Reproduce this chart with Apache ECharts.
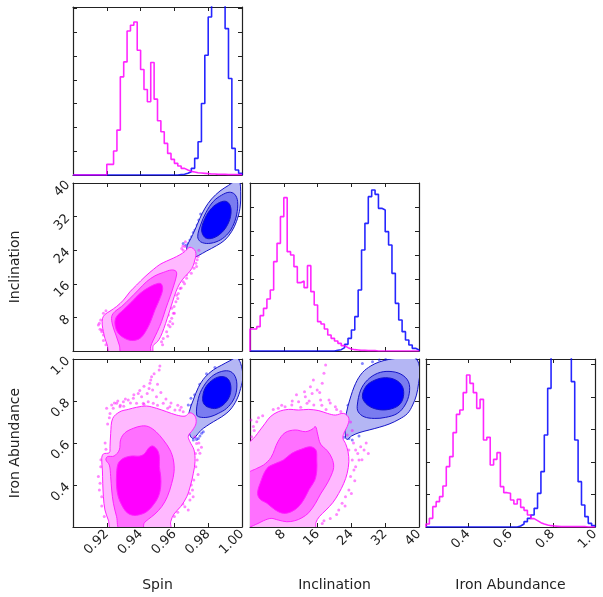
<!DOCTYPE html>
<html lang="en">
<head>
    <meta charset="utf-8"/>
    <script src="https://cdn.jsdelivr.net/npm/echarts@6.0.0/dist/echarts.min.js"></script>
    <style>
        html, body { margin: 0; background: #fff; }
        #main { width: 603px; height: 597px; }
    </style>
</head>
<body>
<div id="main"></div>
<script>
    // axis ranges: [min, max, tick interval]
    var spinRange = [0.90, 1.00, 0.02];
    var inclRange = [0, 40, 8];
    var ironRange = [0.2, 1.0, 0.2];

    // 1D histograms, 50 bins over each axis range
    var spinHistPink = [0,0,0,0,0,0,0,0,0,0, 32,32,72,135,295,340,433,450,460,375, 317,257,220,338,228,163,130,95,65,47, 35,27,20,15,11,9,7,6,5,4, 3,3,2,2,2,1,1,1,1,1];
    var spinHistBlue = [0,0,0,0,0,0,0,0,0,0, 0,0,0,0,0,0,0,0,0,0, 0,0,0,0,0,0,0,0,0,0, 0,1,2,5,10,20,50,100,215,360, 475,620,720,760,650,440,290,80,15,5];
    var inclHistPink = [66,66,73,106,128,156,183,268,323,403, 460,298,288,253,205,210,190,256,178,138, 88,81,66,48,38,30,23,16,10,6, 4,3,2,2,1,1,1,0,0,0, 0,0,0,0,0,0,0,0,0,0];
    var inclHistBlue = [0,0,0,0,0,0,0,0,0,0, 0,0,0,0,0,0,0,0,0,0, 0,0,0,0,0,2,4,10,20,38, 63,103,183,303,383,463,483,470,428,423, 358,318,233,143,93,58,33,18,8,3];
    var ironHistPink = [9,26,61,76,91,123,181,211,283,338, 351,403,456,431,403,356,383,261,269,186, 203,223,121,103,101,81,69,83,59,50, 36,25,19,13,9,6,4,3,2,1, 1,1,1,1,1,1,1,0,0,0];
    var ironHistBlue = [0,0,0,0,0,0,0,0,0,0, 0,0,0,0,0,0,0,0,0,0, 0,0,0,0,0,0,0,3,9,16, 26,36,56,101,166,276,416,560,640,680, 660,600,540,436,261,136,66,31,11,4];
    // hist y scale: [max, tick interval]
    var spinHistY = [505, 71.5];
    var inclHistY = [504, 72];
    var ironHistY = [504, 97.5];

    // density contours (outer, middle, inner) as [x, y] outlines
    var spinInclPink = [
        [[0.9219,-0.5],[0.9203,1.4],[0.9189,3.0],[0.918,4.6],[0.9173,6.2],[0.9175,7.8],[0.9189,8.7],[0.9219,9.5],[0.9258,10.6],[0.9298,12.1],[0.9337,14.1],[0.9376,15.7],[0.9426,17.7],[0.9475,19.4],[0.9514,20.6],[0.9554,21.4],[0.9593,22.1],[0.9632,22.9],[0.9662,23.7],[0.9676,24.3],[0.9692,24.7],[0.9711,24.4],[0.9725,23.7],[0.9727,22.7],[0.9721,21.7],[0.9711,20.3],[0.9692,19.0],[0.9662,17.7],[0.9632,16.1],[0.9609,14.1],[0.9589,11.7],[0.9574,9.8],[0.9558,7.8],[0.9538,5.4],[0.9518,3.4],[0.9499,2.2],[0.9475,1.3],[0.9465,-0.5]],
        [[0.9288,-0.5],[0.9274,1.4],[0.9254,3.8],[0.9234,6.2],[0.9229,8.2],[0.9248,9.4],[0.9288,10.6],[0.9337,12.5],[0.9386,14.5],[0.9435,16.5],[0.9485,17.9],[0.9534,18.7],[0.9583,19.3],[0.9609,19.0],[0.9613,18.1],[0.9597,15.7],[0.9574,12.9],[0.955,10.2],[0.9524,7.0],[0.9499,4.6],[0.9475,2.6],[0.9459,1.0],[0.9455,-0.5]],
        [[0.9248,6.6],[0.9258,8.2],[0.9298,9.8],[0.9347,11.7],[0.9396,13.7],[0.9455,15.3],[0.9504,16.1],[0.9524,15.9],[0.953,14.5],[0.951,12.1],[0.9485,9.8],[0.9459,7.0],[0.9432,4.8],[0.9396,3.0],[0.9347,2.5],[0.9298,3.2],[0.9262,4.6]]
    ];
    var spinInclBlue = [
        [[0.9672,23.7],[0.9676,25.1],[0.9696,26.7],[0.9721,28.8],[0.9751,31.6],[0.9781,34.0],[0.982,36.2],[0.987,38.1],[0.9919,39.4],[0.9958,40.4],[0.9984,40.4],[0.9992,37.9],[0.9988,34.0],[0.9967,30.8],[0.9938,28.4],[0.9898,26.4],[0.985,25.1],[0.979,23.8],[0.9741,22.7],[0.9708,22.1],[0.9682,22.5]],
        [[0.9738,27.2],[0.9755,30.0],[0.9787,33.0],[0.983,35.6],[0.9879,37.1],[0.9924,37.8],[0.9957,37.3],[0.9974,35.6],[0.9968,32.4],[0.9944,29.6],[0.9909,27.6],[0.986,26.2],[0.9801,25.6],[0.9755,26.0]],
        [[0.9761,28.8],[0.9781,31.6],[0.982,34.0],[0.9869,35.4],[0.9908,35.6],[0.9932,34.4],[0.9932,32.0],[0.9908,29.6],[0.9869,27.8],[0.982,26.8],[0.9781,27.0]]
    ];
    var spinIronPink = [
        [[0.9229,0.186],[0.9209,0.233],[0.9189,0.281],[0.918,0.344],[0.9176,0.408],[0.9174,0.471],[0.917,0.527],[0.918,0.548],[0.9215,0.554],[0.9219,0.582],[0.9223,0.646],[0.9235,0.717],[0.9278,0.749],[0.9327,0.76],[0.9376,0.77],[0.9435,0.776],[0.9495,0.765],[0.9554,0.749],[0.9613,0.733],[0.9663,0.728],[0.9692,0.744],[0.9722,0.728],[0.9728,0.694],[0.9708,0.662],[0.9682,0.633],[0.9692,0.606],[0.9716,0.567],[0.9722,0.511],[0.9712,0.456],[0.9696,0.4],[0.9673,0.344],[0.9637,0.297],[0.9598,0.262],[0.9578,0.225],[0.9574,0.186]],
        [[0.9278,0.186],[0.9258,0.249],[0.9239,0.313],[0.9229,0.376],[0.9223,0.44],[0.9215,0.495],[0.9195,0.519],[0.9203,0.535],[0.9243,0.538],[0.9274,0.567],[0.9282,0.617],[0.9308,0.649],[0.9357,0.67],[0.9406,0.681],[0.9446,0.678],[0.9491,0.654],[0.9535,0.614],[0.9574,0.567],[0.9594,0.519],[0.9598,0.463],[0.9584,0.408],[0.9558,0.344],[0.9525,0.297],[0.9485,0.262],[0.9446,0.237],[0.942,0.217],[0.9412,0.186]],
        [[0.9268,0.503],[0.9298,0.527],[0.9347,0.538],[0.9396,0.538],[0.9426,0.551],[0.9446,0.575],[0.9471,0.586],[0.9499,0.567],[0.9511,0.535],[0.9511,0.487],[0.9519,0.44],[0.9519,0.392],[0.9505,0.344],[0.9475,0.305],[0.9436,0.273],[0.9387,0.257],[0.9347,0.257],[0.9314,0.273],[0.9288,0.305],[0.9268,0.344],[0.9258,0.392],[0.9258,0.456]]
    ];
    var spinIronBlue = [
        [[0.9692,0.638],[0.9682,0.694],[0.9688,0.749],[0.9712,0.805],[0.9742,0.865],[0.9781,0.913],[0.983,0.948],[0.988,0.971],[0.9929,0.992],[0.9968,1.005],[0.9992,0.979],[1.0005,0.916],[0.9992,0.86],[0.9968,0.805],[0.9929,0.757],[0.988,0.725],[0.983,0.701],[0.9791,0.681],[0.9755,0.659],[0.9728,0.633],[0.9708,0.622]],
        [[0.9732,0.733],[0.9742,0.813],[0.9771,0.868],[0.982,0.916],[0.988,0.941],[0.9933,0.94],[0.9964,0.908],[0.9968,0.852],[0.9949,0.805],[0.9909,0.765],[0.986,0.741],[0.9811,0.725],[0.9761,0.722]],
        [[0.9767,0.813],[0.9781,0.86],[0.982,0.897],[0.987,0.916],[0.9913,0.908],[0.9933,0.876],[0.9929,0.829],[0.9899,0.789],[0.985,0.765],[0.9801,0.77],[0.9775,0.786]]
    ];
    var inclIronPink = [
        [[-0.4,0.59],[1.2,0.63],[2.4,0.662],[3.6,0.694],[4.8,0.725],[6.7,0.749],[9.1,0.76],[11.5,0.757],[13.9,0.76],[16.3,0.754],[18.3,0.741],[20.2,0.733],[22.2,0.741],[23.4,0.717],[23.0,0.678],[22.2,0.646],[22.0,0.622],[22.6,0.598],[23.2,0.559],[23.4,0.511],[23.0,0.456],[22.2,0.408],[21.0,0.36],[19.6,0.316],[18.0,0.281],[16.4,0.249],[15.6,0.221],[15.3,0.186],[-0.4,0.186]],
        [[-0.4,0.452],[1.6,0.479],[3.2,0.495],[5.0,0.532],[6.6,0.606],[8.3,0.649],[10.7,0.662],[13.1,0.654],[14.7,0.665],[15.5,0.678],[16.0,0.643],[16.7,0.595],[18.3,0.563],[19.4,0.527],[19.8,0.484],[19.0,0.436],[17.9,0.395],[16.7,0.357],[15.5,0.313],[13.9,0.268],[12.3,0.244],[10.6,0.23],[8.7,0.225],[6.7,0.233],[5.0,0.241],[3.2,0.23],[1.6,0.214],[-0.4,0.205]],
        [[1.8,0.36],[2.4,0.408],[4.0,0.479],[6.1,0.503],[7.9,0.519],[9.9,0.551],[12.1,0.57],[14.3,0.582],[15.6,0.567],[15.8,0.519],[15.8,0.468],[15.3,0.421],[14.0,0.379],[12.9,0.336],[11.5,0.297],[9.8,0.273],[7.9,0.265],[6.0,0.281],[4.0,0.313],[2.4,0.332]]
    ];
    var inclIronBlue = [
        [[22.6,0.627],[22.5,0.686],[22.8,0.741],[23.6,0.805],[25.0,0.884],[26.6,0.935],[28.6,0.967],[30.6,0.986],[32.9,0.998],[36.1,1.005],[39.3,1.0],[40.2,0.948],[39.9,0.884],[39.4,0.828],[38.5,0.781],[37.3,0.741],[35.3,0.713],[32.9,0.69],[30.6,0.675],[28.2,0.662],[25.8,0.649],[24.0,0.633],[23.0,0.617]],
        [[25.4,0.781],[26.2,0.852],[27.8,0.9],[30.2,0.932],[32.9,0.941],[35.7,0.928],[37.5,0.892],[37.7,0.837],[36.7,0.781],[34.9,0.741],[32.1,0.722],[29.4,0.717],[27.0,0.725],[25.6,0.749]],
        [[26.6,0.82],[27.5,0.871],[29.6,0.9],[32.1,0.911],[34.5,0.9],[36.1,0.868],[36.3,0.82],[35.3,0.781],[32.9,0.76],[30.2,0.76],[27.8,0.781]]
    ];

    // samples outside the outer contour
    var spinInclPinkPts = [[0.915,6.2],[0.916,5.2],[0.917,4.6],[0.918,3.8],[0.9156,6.6],[0.9164,7.4],[0.918,9.0],[0.9195,9.6],[0.917,5.0],[0.918,2.5],[0.9195,1.5],
        [0.9544,9.4],[0.9564,8.6],[0.9574,7.0],[0.9584,7.8],[0.9594,9.0],[0.9564,6.2],[0.9554,4.6],[0.9534,3.0],[0.9524,2.2],[0.96,9.0],[0.959,6.5],[0.956,3.5],[0.953,1.5],
        [0.9609,11.7],[0.9623,13.7],[0.9652,16.5],[0.9672,18.1],[0.9682,18.9],[0.9716,19.7],[0.9727,20.9],[0.9731,20.1],[0.9735,21.7],[0.9692,20.5],[0.9672,17.3],[0.9633,14.9],
        [0.9613,13.3],[0.9584,10.2],[0.9598,10.6],[0.9574,5.8],[0.962,12.5],[0.964,15.0],[0.966,16.0],[0.97,18.5],[0.974,22.5],[0.9745,24.0],[0.9643,24.4],[0.9652,24.0],[0.9662,24.9],[0.965,25.0],[0.9665,26.0]];
    var spinInclBluePts = [[0.9682,25.6],[0.9692,26.4],[0.9668,25.2],[0.9702,27.2],[0.9652,25.6],[0.9721,28.8],[0.9735,30.0],[0.9755,32.6],[0.9712,28.2],[0.9745,31.2]];
    var spinIronPinkPts = [[0.9514,0.967],[0.951,0.948],[0.9465,0.916],[0.9455,0.884],[0.9471,0.852],[0.9439,0.836],[0.9406,0.82],[0.9386,0.836],[0.9357,0.813],[0.9327,0.805],[0.9298,0.797],[0.9258,0.789],[0.9229,0.781],[0.9238,0.765],[0.9278,0.773],
        [0.9494,0.82],[0.9534,0.789],[0.9573,0.773],[0.9603,0.757],[0.9632,0.757],[0.9652,0.749],[0.9475,0.789],[0.9416,0.789],[0.9445,0.797],[0.9376,0.789],[0.9199,0.765],[0.9219,0.741],
        [0.9245,0.79],[0.9265,0.8],[0.931,0.81],[0.934,0.79],[0.936,0.83],[0.9395,0.85],[0.942,0.87],[0.945,0.86],[0.946,0.9],[0.948,0.93],[0.95,0.88],[0.952,0.84],[0.955,0.81],[0.958,0.79],[0.962,0.78],[0.964,0.77],[0.928,0.78],[0.93,0.775],[0.942,0.785],[0.95,0.78],[0.956,0.765],
        [0.9215,0.72],[0.9205,0.69],[0.919,0.6],[0.9195,0.57],[0.9165,0.52],[0.917,0.3],[0.9185,0.25],[0.915,0.44],[0.916,0.408],[0.9156,0.376],[0.9164,0.487],[0.917,0.344],
        [0.96,0.25],[0.962,0.27],[0.965,0.31],[0.969,0.36],[0.97,0.4],[0.974,0.45],[0.9725,0.55],[0.9745,0.6],[0.976,0.58],[0.9721,0.63],[0.9731,0.598],[0.9741,0.567],[0.9735,0.519],[0.9751,0.551],[0.9727,0.487],[0.9715,0.424],[0.9707,0.376],[0.9692,0.329],[0.9662,0.297],[0.9711,0.344],[0.9682,0.281]];
    var spinIronBluePts = [[0.9696,0.662],[0.9708,0.638],[0.9722,0.627],[0.9731,0.617],[0.9751,0.633],[0.9761,0.646],[0.9688,0.678],[0.9712,0.614],[0.9741,0.622],[0.9771,0.654],[0.9682,0.781],[0.9698,0.813],[0.97,0.78],[0.972,0.83],[0.975,0.88],[0.979,0.93],[0.984,0.96]];
    var inclIronPinkPts = [[17.9,0.971],[17.5,0.932],[17.1,0.884],[15.9,0.852],[14.7,0.836],[13.1,0.82],[13.5,0.789],[11.5,0.797],[9.9,0.781],[8.3,0.773],[6.7,0.765],[18.7,0.805],[20.2,0.773],[16.7,0.805],[15.1,0.781],[14.3,0.868],[12.9,0.844],
        [5.5,0.76],[7.5,0.78],[10.0,0.8],[11.0,0.83],[12.0,0.77],[14.0,0.8],[15.0,0.9],[16.5,0.84],[17.0,0.78],[18.0,0.76],[19.0,0.79],[20.5,0.76],[21.5,0.75],
        [0.24,0.709],[0.8,0.678],[0.4,0.63],[1.6,0.701],[2.0,0.72],[3.0,0.73],[1.0,0.66],[0.5,0.61],
        [22.6,0.582],[23.4,0.567],[24.2,0.519],[24.6,0.471],[23.8,0.44],[25.0,0.487],[25.8,0.519],[23.4,0.376],[22.6,0.344],[21.8,0.313],[21.0,0.281],[17.1,0.217],[25.0,0.567],[26.2,0.582],[27.0,0.567],[23.0,0.638],[21.8,0.662],
        [23.8,0.7],[24.2,0.66],[24.5,0.6],[25.5,0.55],[24.8,0.42],[24.0,0.36],[22.5,0.3],[20.5,0.26],[19.0,0.24],[17.5,0.23],[26.5,0.52],[27.5,0.6],[28.0,0.55]];
    var inclIronBluePts = [[21.8,0.614],[22.2,0.627],[23.4,0.622],[24.2,0.614],[25.8,0.633],[22.6,0.662],[26.6,0.979],[29.0,0.987],[30.6,0.995],[32.1,0.998],[38.5,0.987],[39.3,0.998],[39.7,0.963],[24.8,0.86],[23.2,0.78]];

    var pinkFill = ['#ffb8ff', '#ff70ff', '#ff00ff'];
    var blueFill = ['#b4b6f4', '#7a7cf0', '#0000ff'];

    var cols = [73, 250, 426], rows = [7, 183, 359], W = 169, H = 168;
    var ink = '#222';
    var grids = [], xAxes = [], yAxes = [], series = [];

    function axis(gi, pos, rng, labels, fmt, name, gap) {
        return {
            type: 'value', gridIndex: gi, position: pos,
            min: rng[0], max: rng[1], interval: rng[2],
            axisLine: {show: true, onZero: false, lineStyle: {color: ink, width: 1.2}},
            axisTick: {show: true, inside: true, length: 4, lineStyle: {color: ink}},
            axisLabel: {
                show: labels, rotate: 45, fontSize: 13, color: ink, fontFamily: 'DejaVu Sans',
                margin: 5, showMinLabel: false, formatter: fmt
            },
            splitLine: {show: false},
            name: name || '', nameLocation: 'middle', nameGap: gap || 0,
            nameTextStyle: {fontSize: 14, color: ink, fontFamily: 'DejaVu Sans'}
        };
    }

    // one panel: grid + 4 framed axes
    function panel(r, c, xr, yr, xLab, yLab, xFmt, yFmt, xName, yName) {
        var gi = grids.length;
        grids.push({left: cols[c], top: rows[r], width: W, height: H, outerBoundsMode: 'none'});
        xAxes.push(axis(gi, 'bottom', xr, xLab, xFmt, xName, 51));
        xAxes.push(axis(gi, 'top', xr, false));
        yAxes.push(axis(gi, 'left', yr, yLab, yFmt, yName, 51));
        yAxes.push(axis(gi, 'right', yr, false));
        return gi;
    }

    function histLine(counts, rng, color, gi) {
        var w = (rng[1] - rng[0]) / counts.length, pts = [[rng[0], 0]];
        counts.forEach(function (c, i) {
            pts.push([rng[0] + i * w, c], [rng[0] + (i + 1) * w, c]);
        });
        pts.push([rng[1], 0]);
        return {
            type: 'line', xAxisIndex: 2 * gi, yAxisIndex: 2 * gi, data: pts, symbol: 'none',
            lineStyle: {color: color, width: 1.6, opacity: 0.85}, clip: true, silent: true, z: 3
        };
    }

    function contour(polys, fills, stroke, gi, z) {
        return {
            type: 'custom', xAxisIndex: 2 * gi, yAxisIndex: 2 * gi, clip: true, silent: true, z: z,
            data: polys.map(function (p, i) {
                var sx = 0, sy = 0;
                p.forEach(function (q) { sx += q[0]; sy += q[1]; });
                return [sx / p.length, sy / p.length, i];
            }),
            renderItem: function (params, api) {
                var i = api.value(2);
                var pts = polys[i].map(function (q) { return api.coord(q); });
                return {
                    type: 'polygon', shape: {points: pts, smooth: 0.35},
                    style: {fill: fills[i], stroke: stroke, lineWidth: 1}
                };
            }
        };
    }

    function dots(pts, color, gi, z) {
        return {
            type: 'scatter', xAxisIndex: 2 * gi, yAxisIndex: 2 * gi, data: pts, symbolSize: 3,
            itemStyle: {color: color}, silent: true, z: z
        };
    }

    var f2 = function (v) { return v.toFixed(2); };
    var f1 = function (v) { return v.toFixed(1); };
    var f0 = function (v) { return String(Math.round(v)); };

    var g0 = panel(0, 0, spinRange, [0, spinHistY[0], spinHistY[1]], false, false);
    var g1 = panel(1, 0, spinRange, inclRange, false, true, f2, f0, '', 'Inclination');
    var g2 = panel(1, 1, inclRange, [0, inclHistY[0], inclHistY[1]], false, false);
    var g3 = panel(2, 0, spinRange, ironRange, true, true, f2, f1, 'Spin', 'Iron Abundance');
    var g4 = panel(2, 1, inclRange, ironRange, true, false, f0, f1, 'Inclination');
    var g5 = panel(2, 2, ironRange, [0, ironHistY[0], ironHistY[1]], true, false, f1, f1, 'Iron Abundance');

    series.push(histLine(spinHistBlue, spinRange, '#0000ff', g0));
    series.push(histLine(spinHistPink, spinRange, '#ff00ff', g0));
    series.push(histLine(inclHistBlue, inclRange, '#0000ff', g2));
    series.push(histLine(inclHistPink, inclRange, '#ff00ff', g2));
    series.push(histLine(ironHistBlue, ironRange, '#0000ff', g5));
    series.push(histLine(ironHistPink, ironRange, '#ff00ff', g5));

    [[g1, spinInclBluePts, spinInclBlue, spinInclPinkPts, spinInclPink],
     [g3, spinIronBluePts, spinIronBlue, spinIronPinkPts, spinIronPink],
     [g4, inclIronBluePts, inclIronBlue, inclIronPinkPts, inclIronPink]].forEach(function (p) {
        series.push(dots(p[1], 'rgba(0,0,255,0.6)', p[0], 2));
        series.push(contour(p[2], blueFill, '#1414c8', p[0], 3));
        series.push(dots(p[3], 'rgba(255,0,255,0.6)', p[0], 4));
        series.push(contour(p[4], pinkFill, '#ff22ff', p[0], 5));
    });

    var chart = echarts.init(document.getElementById('main'));
    chart.setOption({
        animation: false,
        backgroundColor: '#fff',
        grid: grids,
        xAxis: xAxes,
        yAxis: yAxes,
        series: series
    });
</script>
</body>
</html>
